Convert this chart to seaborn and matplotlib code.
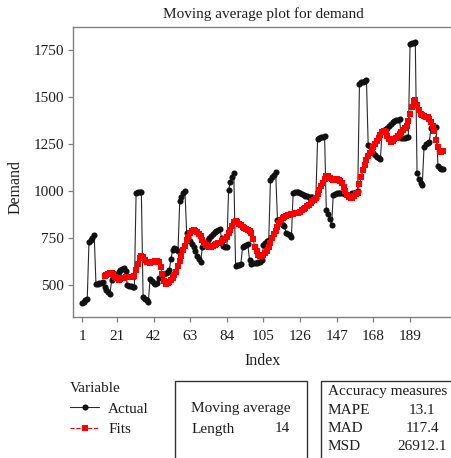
import numpy as np
import pandas as pd
import matplotlib
matplotlib.use("Agg")
import matplotlib.pyplot as plt
from matplotlib.patches import Rectangle
import seaborn as sns

# Observed demand, one value per index (1..208)
actual = [
    405, 412, 420, 425,
    730, 740, 752, 765,
    505, 508, 510, 512, 515,
    490, 475, 463, 455,
    525, 535, 548, 560, 570, 578, 585, 592, 575,
    500, 496, 493, 490, 487,
    990, 993, 995, 997,
    438, 428, 420, 412,
    530, 522, 512, 505, 510,
    535, 545, 552, 560, 566, 572, 580,
    640, 688, 695, 692, 680,
    945, 970, 990, 998,
    775, 755, 735, 718, 705, 680, 655, 640, 624,
    704, 710, 715, 740, 752, 762, 772, 780, 788, 793, 798,
    750, 710, 705, 702,
    1005, 1050, 1075, 1097,
    603, 606, 606, 610,
    700, 708, 713, 718,
    633, 610, 615, 615, 619, 620, 624, 633,
    713, 725, 732, 739,
    1059, 1073, 1085, 1100,
    846, 840, 830, 820, 814,
    775, 770, 765, 757,
    990, 993, 996, 995, 991, 986, 980, 975, 973, 970, 968, 966, 965,
    963,
    1275, 1282, 1288, 1290, 1295,
    900, 880, 850, 820,
    980, 985, 990, 990, 992, 990, 988,
    985, 980, 978, 982, 988, 992, 995, 998,
    1570, 1578, 1583, 1588, 1592,
    1245, 1240, 1230, 1205, 1190, 1183, 1175, 1170,
    1320, 1325, 1332, 1338, 1345, 1355, 1365, 1372, 1378, 1380, 1383,
    1280, 1282, 1285, 1288, 1290,
    1782, 1787, 1790, 1794,
    1095, 1062, 1045, 1032,
    1236, 1250, 1258, 1262,
    1335, 1340, 1342, 1340,
    1133, 1125, 1120, 1115,
]

# Moving-average fits, starting at index 14
fit_start = 14
fits = [
    548, 553, 560, 563, 565,
    557, 545, 535, 528,
    530, 536, 539, 541, 543, 544, 544, 545, 547,
    578, 612, 645, 655,
    650, 635, 625, 620, 619, 621, 624, 626, 627, 622,
    595, 560, 522, 505, 510,
    518, 526, 540, 555, 572, 600, 628, 655, 685, 710, 740, 758,
    775, 790, 793, 788, 780, 772, 760,
    740, 722, 712, 706, 704, 705, 707, 714, 721, 724, 726, 733, 740, 746, 755,
    775, 795, 815, 835, 842, 835, 826, 818, 810, 805, 800, 795, 787, 775,
    745, 705, 680, 660, 652, 655, 660, 670, 682, 700,
    722, 748, 770, 790, 810, 830, 845, 855, 862, 867, 871,
    872, 876, 880, 882, 883, 885, 890, 898, 905, 912, 920, 928, 937, 945, 955,
    965, 985, 1005, 1025, 1045, 1062,
    1080, 1078, 1072, 1065, 1060, 1060, 1062, 1060, 1055, 1045,
    1020, 998, 978, 968, 962, 965, 975, 982, 992,
    1035, 1075, 1110, 1140, 1165, 1185, 1200, 1215, 1232, 1250, 1268, 1285, 1300,
    1312, 1322, 1315, 1295, 1275, 1262, 1265, 1275, 1285, 1295, 1305, 1315, 1325, 1335, 1348,
    1375, 1410, 1445, 1480, 1485, 1460, 1430, 1412, 1405, 1400, 1396, 1392, 1385,
    1370, 1345, 1320, 1270, 1235, 1210, 1210, 1212,
]

x_ticks = [1, 21, 42, 63, 84, 105, 126, 147, 168, 189]
y_ticks = [500, 750, 1000, 1250, 1500, 1750]
ma_length = 14
accuracy_names = ["MAPE", "MAD", "MSD"]
accuracy_values = ["13.1", "117.4", "26912.1"]

sns.set_theme(style="white")
plt.rcParams["font.family"] = ["Liberation Serif", "DejaVu Serif"]
plt.rcParams["text.color"] = "#1e1e1e"

W, H = 451, 458
fig = plt.figure(figsize=(W / 100, H / 100), dpi=100)


def fx(px):
    return px / W


def fy(py):
    return 1 - py / H


ax = fig.add_axes([fx(73), fy(317), fx(454) - fx(73), fy(27) - fy(317)])

actual_df = pd.DataFrame({"Index": np.arange(1, len(actual) + 1), "Demand": actual})
fits_df = pd.DataFrame({"Index": np.arange(fit_start, fit_start + len(fits)), "Demand": fits})

sns.lineplot(data=actual_df, x="Index", y="Demand", ax=ax, color="#2a2a2a",
             linewidth=0.8, marker="o", markersize=4.4, markeredgewidth=0,
             markerfacecolor="#111111", label="Actual", legend=False)
sns.lineplot(data=fits_df, x="Index", y="Demand", ax=ax, color="#ff0000",
             linewidth=0.8, linestyle="--", marker="s", markersize=3.8,
             markeredgewidth=0, label="Fits", legend=False)

ax.set_xlim(-4.16, -4.16 + 381 / 1.745)
ax.set_ylim(330, 1873)
ax.set_xticks(x_ticks)
ax.set_yticks(y_ticks)
ax.set_xlabel("")
ax.set_ylabel("")
ax.tick_params(axis="both", direction="out", length=3.5, width=0.9,
               color="#808080", labelsize=11, labelcolor="#1e1e1e",
               bottom=True, left=True, top=False, right=False)
ax.tick_params(axis="x", pad=6)
ax.tick_params(axis="y", pad=3)
for s in ax.spines.values():
    s.set_color("#808080")
    s.set_linewidth(1.0)

fig.text(fx(263), fy(14), "Moving average plot for demand", ha="center", va="center", fontsize=11)
fig.text(fx(263), fy(361), "Index", ha="center", va="center", fontsize=11.5)
fig.text(fx(16), fy(187), "Demand", ha="center", va="center", rotation=90, fontsize=11.5)

# Legend for the two series
h1, h2 = ax.lines[0], ax.lines[1]
fig.legend(handles=[h1, h2], labels=["Actual", "Fits"], title="Variable",
           loc="upper left", bbox_to_anchor=(fx(70), fy(382)), frameon=False,
           alignment="left", handlelength=1.9, handletextpad=0.6,
           labelspacing=0.45, fontsize=11, title_fontsize=11,
           borderaxespad=0, borderpad=0)

# Moving average info box
fig.add_artist(Rectangle((fx(175), fy(470)), fx(307) - fx(175), fy(381) - fy(470),
                         transform=fig.transFigure, fill=False, edgecolor="#333333", linewidth=1.0))
fig.text(fx(241), fy(408.5), "Moving average", ha="center", va="center", fontsize=11)
fig.text(fx(192), fy(429), "Length", ha="left", va="center", fontsize=11)
fig.text(fx(289.5), fy(429), str(ma_length), ha="right", va="center", fontsize=11)

# Accuracy measures box
fig.add_artist(Rectangle((fx(321), fy(470)), fx(470) - fx(321), fy(381) - fy(470),
                         transform=fig.transFigure, fill=False, edgecolor="#333333", linewidth=1.0))
fig.text(fx(328), fy(391.5), "Accuracy measures", ha="left", va="center", fontsize=11)
for k, (name, val) in enumerate(zip(accuracy_names, accuracy_values)):
    yy = 410 + k * 18
    fig.text(fx(328), fy(yy), name, ha="left", va="center", fontsize=11)
    fig.text(fx(422), fy(yy), val, ha="center", va="center", fontsize=11)

fig.savefig("out.png", dpi=100)
